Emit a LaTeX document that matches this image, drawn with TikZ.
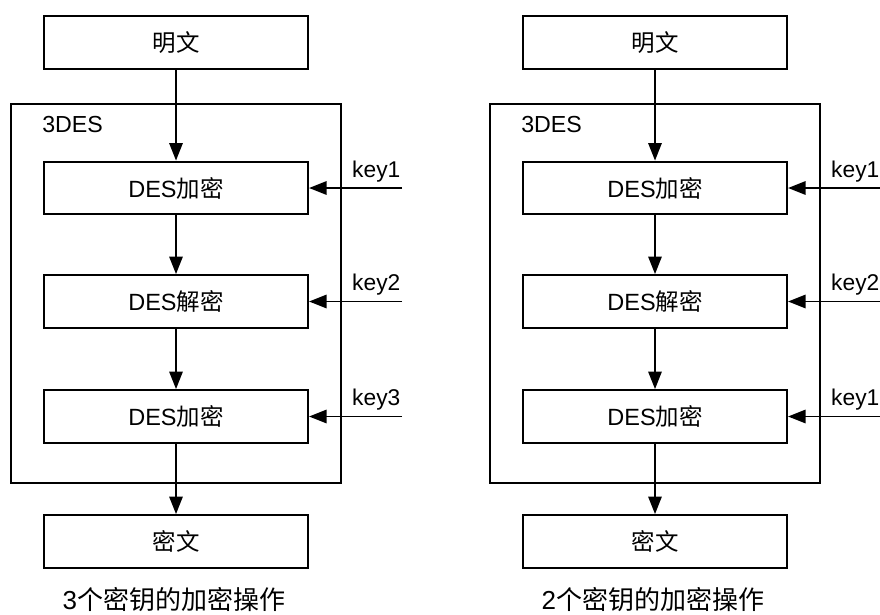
\documentclass[tikz,border=0pt]{standalone}
\usepackage{fontspec}
\setmainfont{Liberation Sans}
\newfontfamily\cjk{Noto Sans CJK SC}
\usetikzlibrary{arrows.meta, positioning}

\tikzset{
  stage/.style={draw, line width=1.4pt, minimum width=6.6cm, minimum height=1.32cm,
    inner sep=0pt, font=\fontsize{16.7}{20}\selectfont},
  flow/.style={line width=1.4pt, -{Triangle[length=12.5pt,width=9.5pt]}},
  keylbl/.style={anchor=south east, inner sep=1pt, yshift=3pt, font=\fontsize{16.2}{20}\selectfont},
}

\begin{document}
\begin{tikzpicture}[x=0.025cm, y=-0.025cm]
\useasboundingbox (0,0) rectangle (880,614);

\foreach \dx/\n/\ka/\kb/\kc [count=\i] in {0/3/key1/key2/key3, 479/2/key1/key2/key1}{
\begin{scope}[shift={(\dx,0)}]
% 3DES frame
\node[draw, line width=1.4pt, minimum width=8.25cm, minimum height=9.475cm] (frame\i) at (176,293.5) {};
\node[anchor=west, inner sep=0pt, font=\fontsize{16.5}{20}\selectfont] (lbl\i) at (42,125) {3DES};

% stages
\node[stage] (pt\i) at (176,42.5) {\cjk 明文};
\node[stage] (ea\i) at (176,188) {DES\cjk 加密};
\node[stage] (da\i) at (176,301.5) {DES\cjk 解密};
\node[stage] (eb\i) at (176,416.5) {DES\cjk 加密};
\node[stage] (ct\i) at (176,541.5) {\cjk 密文};

\draw[flow] (pt\i) -- (ea\i);
\draw[flow] (ea\i) -- (da\i);
\draw[flow] (da\i) -- (eb\i);
\draw[flow] (eb\i) -- (ct\i);

% keys
\coordinate (ka\i) at (402,188);
\coordinate (kb\i) at (402,301.5);
\coordinate (kc\i) at (402,416.5);
\draw[flow] (ka\i) -- (ea\i.east);
\draw[flow] (kb\i) -- (da\i.east);
\draw[flow] (kc\i) -- (eb\i.east);
\node[keylbl] (kla\i) at (ka\i) {\ka};
\node[keylbl] (klb\i) at (kb\i) {\kb};
\node[keylbl] (klc\i) at (kc\i) {\kc};

% caption
\node[font=\fontsize{18.5}{22}\selectfont] (cap\i) at (174,600) {\n\cjk 个密钥的加密操作};
\end{scope}
}

\end{tikzpicture}
\end{document}
